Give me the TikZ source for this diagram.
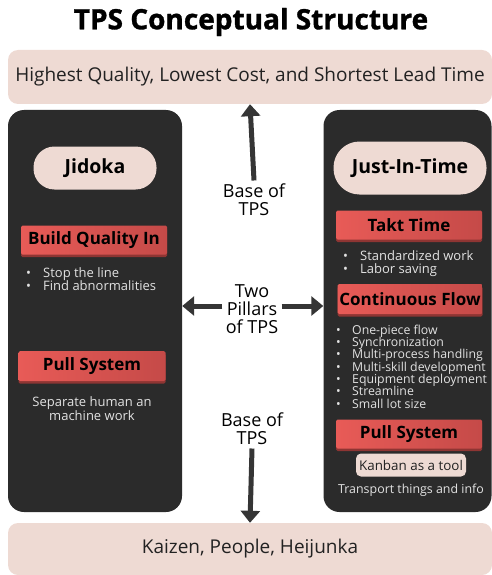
\documentclass[tikz,border=0pt]{standalone}
\usepackage{fontspec}
\setmainfont{Open Sans}
\newfontfamily\titlefont[BoldFeatures={FakeBold=1.2}]{Open Sans}
\usetikzlibrary{arrows.meta,shadows}
\definecolor{pinkbg}{HTML}{EEDAD3}
\definecolor{darkbg}{HTML}{2B2B2B}
\definecolor{redl}{HTML}{E85B57}
\definecolor{redr}{HTML}{C54A48}
\definecolor{redsh}{HTML}{8E3533}
\definecolor{arrowc}{HTML}{353535}
\definecolor{txtlight}{HTML}{E2E2E2}
\definecolor{txtdark}{HTML}{222222}

\begin{document}
\begin{tikzpicture}[x=1pt,y=-1pt,line cap=round,line join=round,>={Triangle[width=19pt,length=12pt]},
    goal/.style={fill=pinkbg,rounded corners=10pt,minimum width=484pt,text=txtdark,font=\fontsize{19}{22}\selectfont},
    pillar/.style={fill=darkbg,rounded corners=16pt,minimum height=402pt},
    pill/.style={fill=pinkbg,rounded corners=21pt,text=black,font=\bfseries\fontsize{19.5}{22}\selectfont},
    redbar/.style={left color=redl,right color=redr,rounded corners=1.5pt,minimum width=146pt,minimum height=29pt,inner sep=1pt,text=black,font=\bfseries\fontsize{17}{20}\selectfont,drop shadow={shadow xshift=0pt,shadow yshift=-2.5pt,fill=redsh,opacity=1}},
    bullets/.style={text=txtlight,align=left,inner sep=0pt,font=\fontsize{13}{13}\selectfont},
    caption/.style={align=center,text=black,font=\fontsize{18}{18}\selectfont},
    link/.style={->,line width=5pt,draw=arrowc,line cap=butt}]
\useasboundingbox (0,0) rectangle (492,575);

% title and the two goal bands
\node[font=\titlefont\bfseries\fontsize{28}{30}\selectfont] (title) at (251,22) {TPS Conceptual Structure};
\node[goal,minimum height=54pt] (top) at (250,77) {Highest Quality, Lowest Cost, and Shortest Lead Time};
\node[goal,minimum height=52pt] (bottom) at (250,549) {Kaizen, People, Heijunka};

% the two pillars
\node[pillar,minimum width=174pt] (jidokabox) at (95,311) {};
\node[pillar,minimum width=168pt] (jitbox) at (407.5,311) {};

% Jidoka pillar
\node[pill,minimum width=123pt,minimum height=43pt] (jidoka) at (95,168) {Jidoka};
\node[redbar] (quality) at (94,240) {Build Quality In};
\node[bullets,anchor=base west] (qualitylist) at (26,290)
  {\makebox[17pt][l]{•}Stop the line\\\makebox[17pt][l]{•}Find abnormalities};
\node[redbar,minimum width=147pt,minimum height=30pt] (pullleft) at (92,366) {Pull System};
\node[bullets,align=center,anchor=base,font=\fontsize{13}{12}\selectfont] (separate) at (92,420)
  {Separate human an\\machine work};

% Just-In-Time pillar
\node[pill,minimum width=153pt,minimum height=53pt,rounded corners=26pt] (jit) at (410,168) {Just-In-Time};
\node[redbar] (takt) at (409,225) {Takt Time};
\node[bullets,anchor=base west,font=\fontsize{13}{12.5}\selectfont] (taktlist) at (343,273)
  {\makebox[17pt][l]{•}Standardized work\\\makebox[17pt][l]{•}Labor saving};
\node[redbar,minimum width=145pt,minimum height=30pt] (flow) at (410,299) {Continuous Flow};
\node[bullets,anchor=base west,font=\fontsize{12.3}{12.3}\selectfont] (flowlist) at (336,408)
  {\makebox[16pt][l]{•}One-piece flow\\\makebox[16pt][l]{•}Synchronization\\\makebox[16pt][l]{•}Multi-process handling\\\makebox[16pt][l]{•}Multi-skill development\\\makebox[16pt][l]{•}Equipment deployment\\\makebox[16pt][l]{•}Streamline\\\makebox[16pt][l]{•}Small lot size};
\node[redbar] (pullright) at (409,434) {Pull System};
\node[fill=pinkbg,rounded corners=5pt,minimum width=110pt,minimum height=23pt,inner sep=2pt,text=txtdark,font=\fontsize{13.4}{14}\selectfont] (kanban) at (411,465) {Kanban as a tool};
\node[bullets,anchor=base,font=\fontsize{12.4}{13}\selectfont] (transport) at (411,493) {Transport things and info};

% captions between the pillars
\node[caption] (baseup) at (254,200) {Base of\\TPS};
\node[caption] (pillars) at (252,309) {Two\\Pillars\\of TPS};
\node[caption] (basedown) at (252,429) {Base of\\TPS};

% arrows
\draw[link] (baseup.north) -- (top.south);
\draw[link] ([yshift=3pt]pillars.west) -- ([yshift=3pt]pillars.west -| jidokabox.east);
\draw[link] ([yshift=3pt]pillars.east) -- ([yshift=3pt]pillars.east -| jitbox.west);
\draw[link] (basedown.south) -- (bottom.north);
\end{tikzpicture}
\end{document}
